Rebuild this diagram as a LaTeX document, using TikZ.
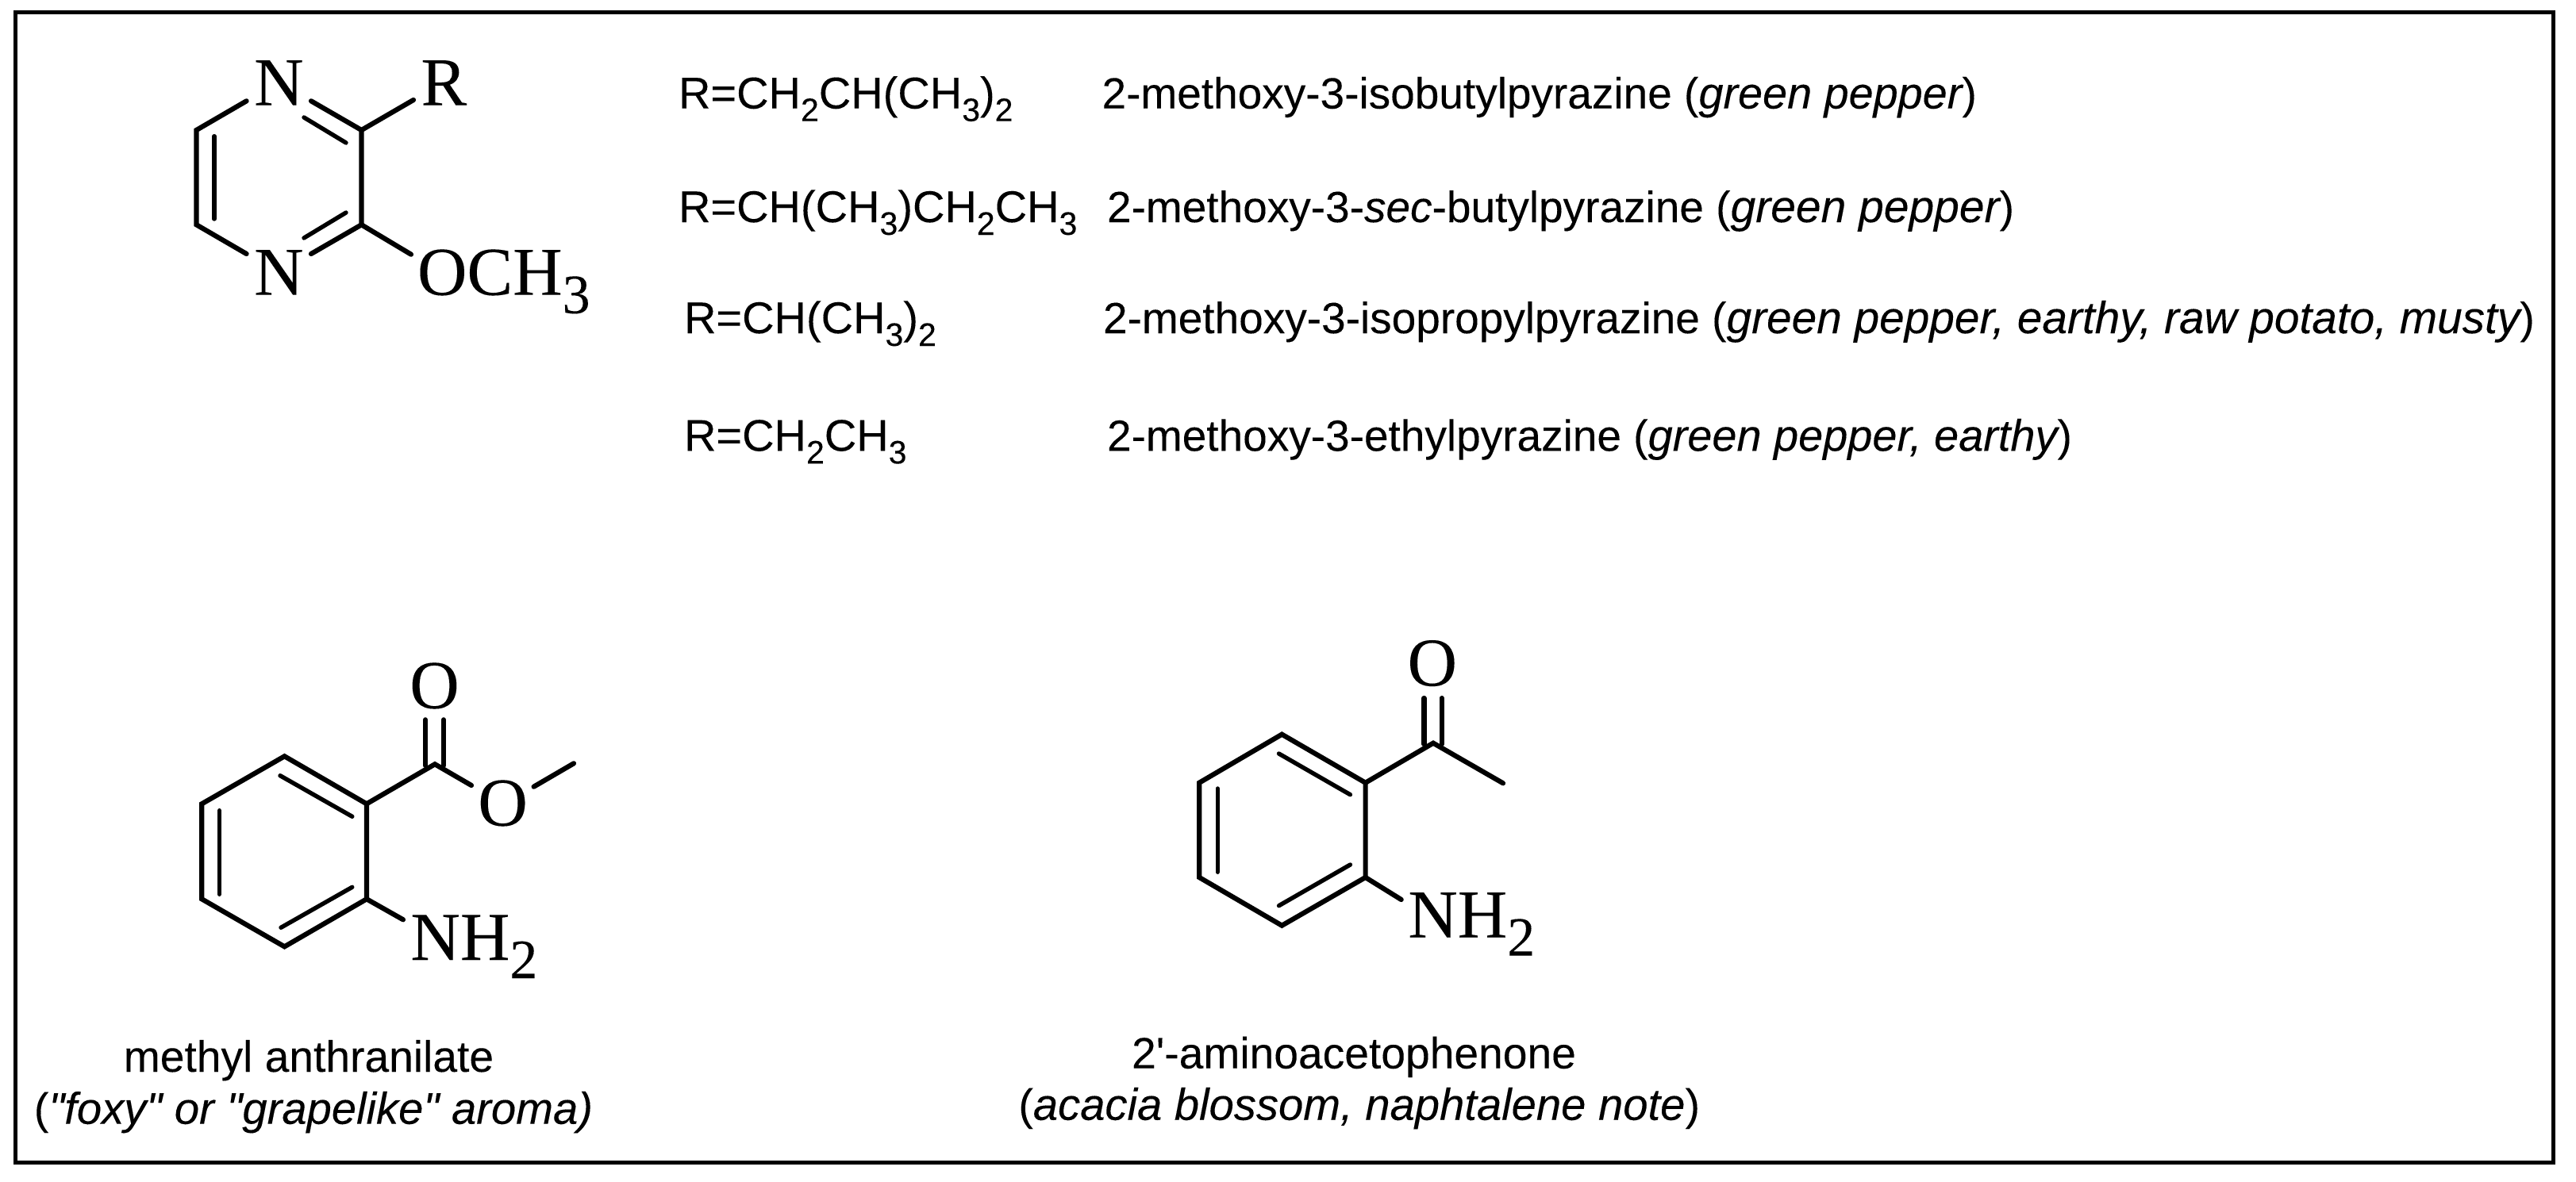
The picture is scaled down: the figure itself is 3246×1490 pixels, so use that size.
\documentclass[tikz,border=0pt]{standalone}
\usepackage{fontspec}
\newfontfamily\sansfam[FakeBold=0.12,ItalicFeatures={FakeBold=0.12}]{Liberation Sans}
\newfontfamily\atomfam[FakeBold=0.1]{Liberation Serif}
\newcommand\asub[1]{\raisebox{-23pt}{\fontsize{70}{70}\selectfont #1}}
\newcommand\ssub[1]{\raisebox{-16pt}{\fontsize{41}{44}\selectfont #1}}
\newcommand\itx[2][56.2]{{\fontsize{#1}{60}\selectfont\itshape #2}}
\tikzset{
  atomlab/.style={font=\atomfam\fontsize{86.5}{90}\selectfont,inner sep=0pt,outer sep=0pt,text=black},
  formula/.style={font=\sansfam\fontsize{56}{60}\selectfont,inner sep=0pt,outer sep=0pt,anchor=base west,text=black},
  namelab/.style={font=\sansfam\fontsize{55}{60}\selectfont,inner sep=0pt,outer sep=0pt,anchor=base west,text=black},
  caption/.style={font=\sansfam\fontsize{55.2}{60}\selectfont,inner sep=0pt,outer sep=0pt,anchor=base,text=black},
  bond/.style={line width=6.2pt,line cap=round,line join=miter,draw=black},
  inner bond/.style={line width=5.4pt,line cap=round,draw=black},
  frame/.style={line width=5pt,draw=black}
}
\begin{document}
\begin{tikzpicture}[x=1pt,y=-1pt]
\useasboundingbox (0,0) rectangle (3246,1490);
\fill[white] (0,0) rectangle (3246,1490);
\coordinate (fa) at (19.5,16);
\coordinate (fb) at (3217,1465);
\draw[frame] (fa) rectangle (fb);

% pyrazine
\node[atomlab,anchor=base] (n1) at (351.4,132.7) {N};
\node[atomlab,anchor=base] (n4) at (351.4,371.7) {N};
\node[atomlab,anchor=base west] (rgrp) at (530.5,132.7) {R};
\node[atomlab,anchor=base west] (och) at (526,371.7) {OCH\asub{3}};
\coordinate (p1) at (247.5,164);
\coordinate (p2) at (247.5,283.3);
\coordinate (p3) at (455.5,164);
\coordinate (p4) at (455.5,283.3);
\coordinate (p1n) at (310.6,127.3);
\coordinate (p2n) at (310.6,320);
\coordinate (p3n) at (392,127.3);
\coordinate (p4n) at (392,320);
\coordinate (pr) at (521,126);
\coordinate (po) at (518,320.7);
\coordinate (pi1) at (270,171.7);
\coordinate (pi2) at (270,276);
\coordinate (pi3) at (383,148);
\coordinate (pi4) at (436,180);
\coordinate (pi5) at (383,300);
\coordinate (pi6) at (436,268);
\draw[bond] (p1n) -- (p1) -- (p2) -- (p2n);
\draw[bond] (p3n) -- (p3) -- (p4) -- (p4n);
\draw[bond] (p3) -- (pr);
\draw[bond] (p4) -- (po);
\draw[inner bond] (pi1) -- (pi2);
\draw[inner bond] (pi3) -- (pi4);
\draw[inner bond] (pi5) -- (pi6);

% substituent table
\node[formula] (f1) at (855,136.7) {R=CH\ssub{2}CH(CH\ssub{3})\ssub{2}};
\node[namelab] (t1) at (1388.5,136.7) {2-methoxy-3-isobutylpyrazine (\itx[55.8]{green pepper})};
\node[formula] (f2) at (855,280) {R=CH(CH\ssub{3})CH\ssub{2}CH\ssub{3}};
\node[namelab] (t2) at (1395,280) {2-methoxy-3-\textit{sec}-butylpyrazine (\itx[57]{green pepper})};
\node[formula] (f3) at (862,420) {R=CH(CH\ssub{3})\ssub{2}};
\node[namelab] (t3) at (1390,420) {2-methoxy-3-isopropylpyrazine (\itx[56.8]{green pepper, earthy, raw potato, musty})};
\node[formula] (f4) at (862,568.3) {R=CH\ssub{2}CH\ssub{3}};
\node[namelab] (t4) at (1395,568.3) {2-methoxy-3-ethylpyrazine (\itx[55.9]{green pepper, earthy})};

% methyl anthranilate
\node[atomlab,anchor=base] (ma1) at (547.5,892.7) {O};
\node[atomlab,anchor=base] (ma2) at (633.6,1040.7) {O};
\node[atomlab,anchor=base west] (ma3) at (517.4,1210) {NH\asub{2}};
\coordinate (a1) at (254.3,1013.3);
\coordinate (a2) at (358.5,953.3);
\coordinate (a3) at (462,1013.3);
\coordinate (a4) at (462,1133.3);
\coordinate (a5) at (358.5,1193.3);
\coordinate (a6) at (254.3,1133.3);
\coordinate (ac) at (548,963.3);
\coordinate (ad1) at (536,907.3);
\coordinate (ad2) at (536,965);
\coordinate (ad3) at (559,907.3);
\coordinate (ad4) at (559,965);
\coordinate (ae1) at (594,990);
\coordinate (ae2) at (672.6,991.7);
\coordinate (ae3) at (723,962.3);
\coordinate (an) at (508,1159.3);
\coordinate (ai1) at (353,977.7);
\coordinate (ai2) at (443.8,1029.3);
\coordinate (ai3) at (276.5,1021.7);
\coordinate (ai4) at (276.5,1127.3);
\coordinate (ai5) at (354,1169.3);
\coordinate (ai6) at (443.8,1118.3);
\draw[bond] (a1) -- (a2) -- (a3) -- (a4) -- (a5) -- (a6) -- cycle;
\draw[bond] (a3) -- (ac) -- (ae1);
\draw[bond] (ad1) -- (ad2);
\draw[bond] (ad3) -- (ad4);
\draw[bond] (ae2) -- (ae3);
\draw[bond] (a4) -- (an);
\draw[inner bond] (ai1) -- (ai2);
\draw[inner bond] (ai3) -- (ai4);
\draw[inner bond] (ai5) -- (ai6);
\node[caption] (c1) at (389,1351) {methyl anthranilate};
\node[caption] (c2) at (395,1416.7) {(\itx{"foxy" or "grapelike" aroma)}};

% aminoacetophenone
\node[atomlab,anchor=base] (ap1) at (1804.8,864.3) {O};
\node[atomlab,anchor=base west] (ap2) at (1774.3,1181.7) {NH\asub{2}};
\coordinate (b1) at (1511.2,986.7);
\coordinate (b2) at (1615.3,925.7);
\coordinate (b3) at (1720.6,986.7);
\coordinate (b4) at (1720.6,1106);
\coordinate (b5) at (1615.3,1166.7);
\coordinate (b6) at (1511.2,1106);
\coordinate (bc) at (1806,936.7);
\coordinate (bd1) at (1794.4,880);
\coordinate (bd2) at (1794.4,938);
\coordinate (bd3) at (1816.6,880);
\coordinate (bd4) at (1816.6,938);
\coordinate (bm) at (1894,987.3);
\coordinate (bn) at (1765.7,1134);
\coordinate (bi1) at (1611.5,950);
\coordinate (bi2) at (1701.4,1001.7);
\coordinate (bi3) at (1534.2,994);
\coordinate (bi4) at (1534.2,1099.3);
\coordinate (bi5) at (1611.5,1141.7);
\coordinate (bi6) at (1701.4,1090);
\draw[bond] (b1) -- (b2) -- (b3) -- (b4) -- (b5) -- (b6) -- cycle;
\draw[bond] (b3) -- (bc) -- (bm);
\draw[bond] (bd1) -- (bd2);
\draw[bond] (bd3) -- (bd4);
\draw[bond] (b4) -- (bn);
\draw[inner bond] (bi1) -- (bi2);
\draw[inner bond] (bi3) -- (bi4);
\draw[inner bond] (bi5) -- (bi6);
\node[caption] (c3) at (1706,1346.7) {2'-aminoacetophenone};
\node[caption] (c4) at (1712.7,1411.7) {(\itx{acacia blossom, naphtalene note})};
\end{tikzpicture}
\end{document}
